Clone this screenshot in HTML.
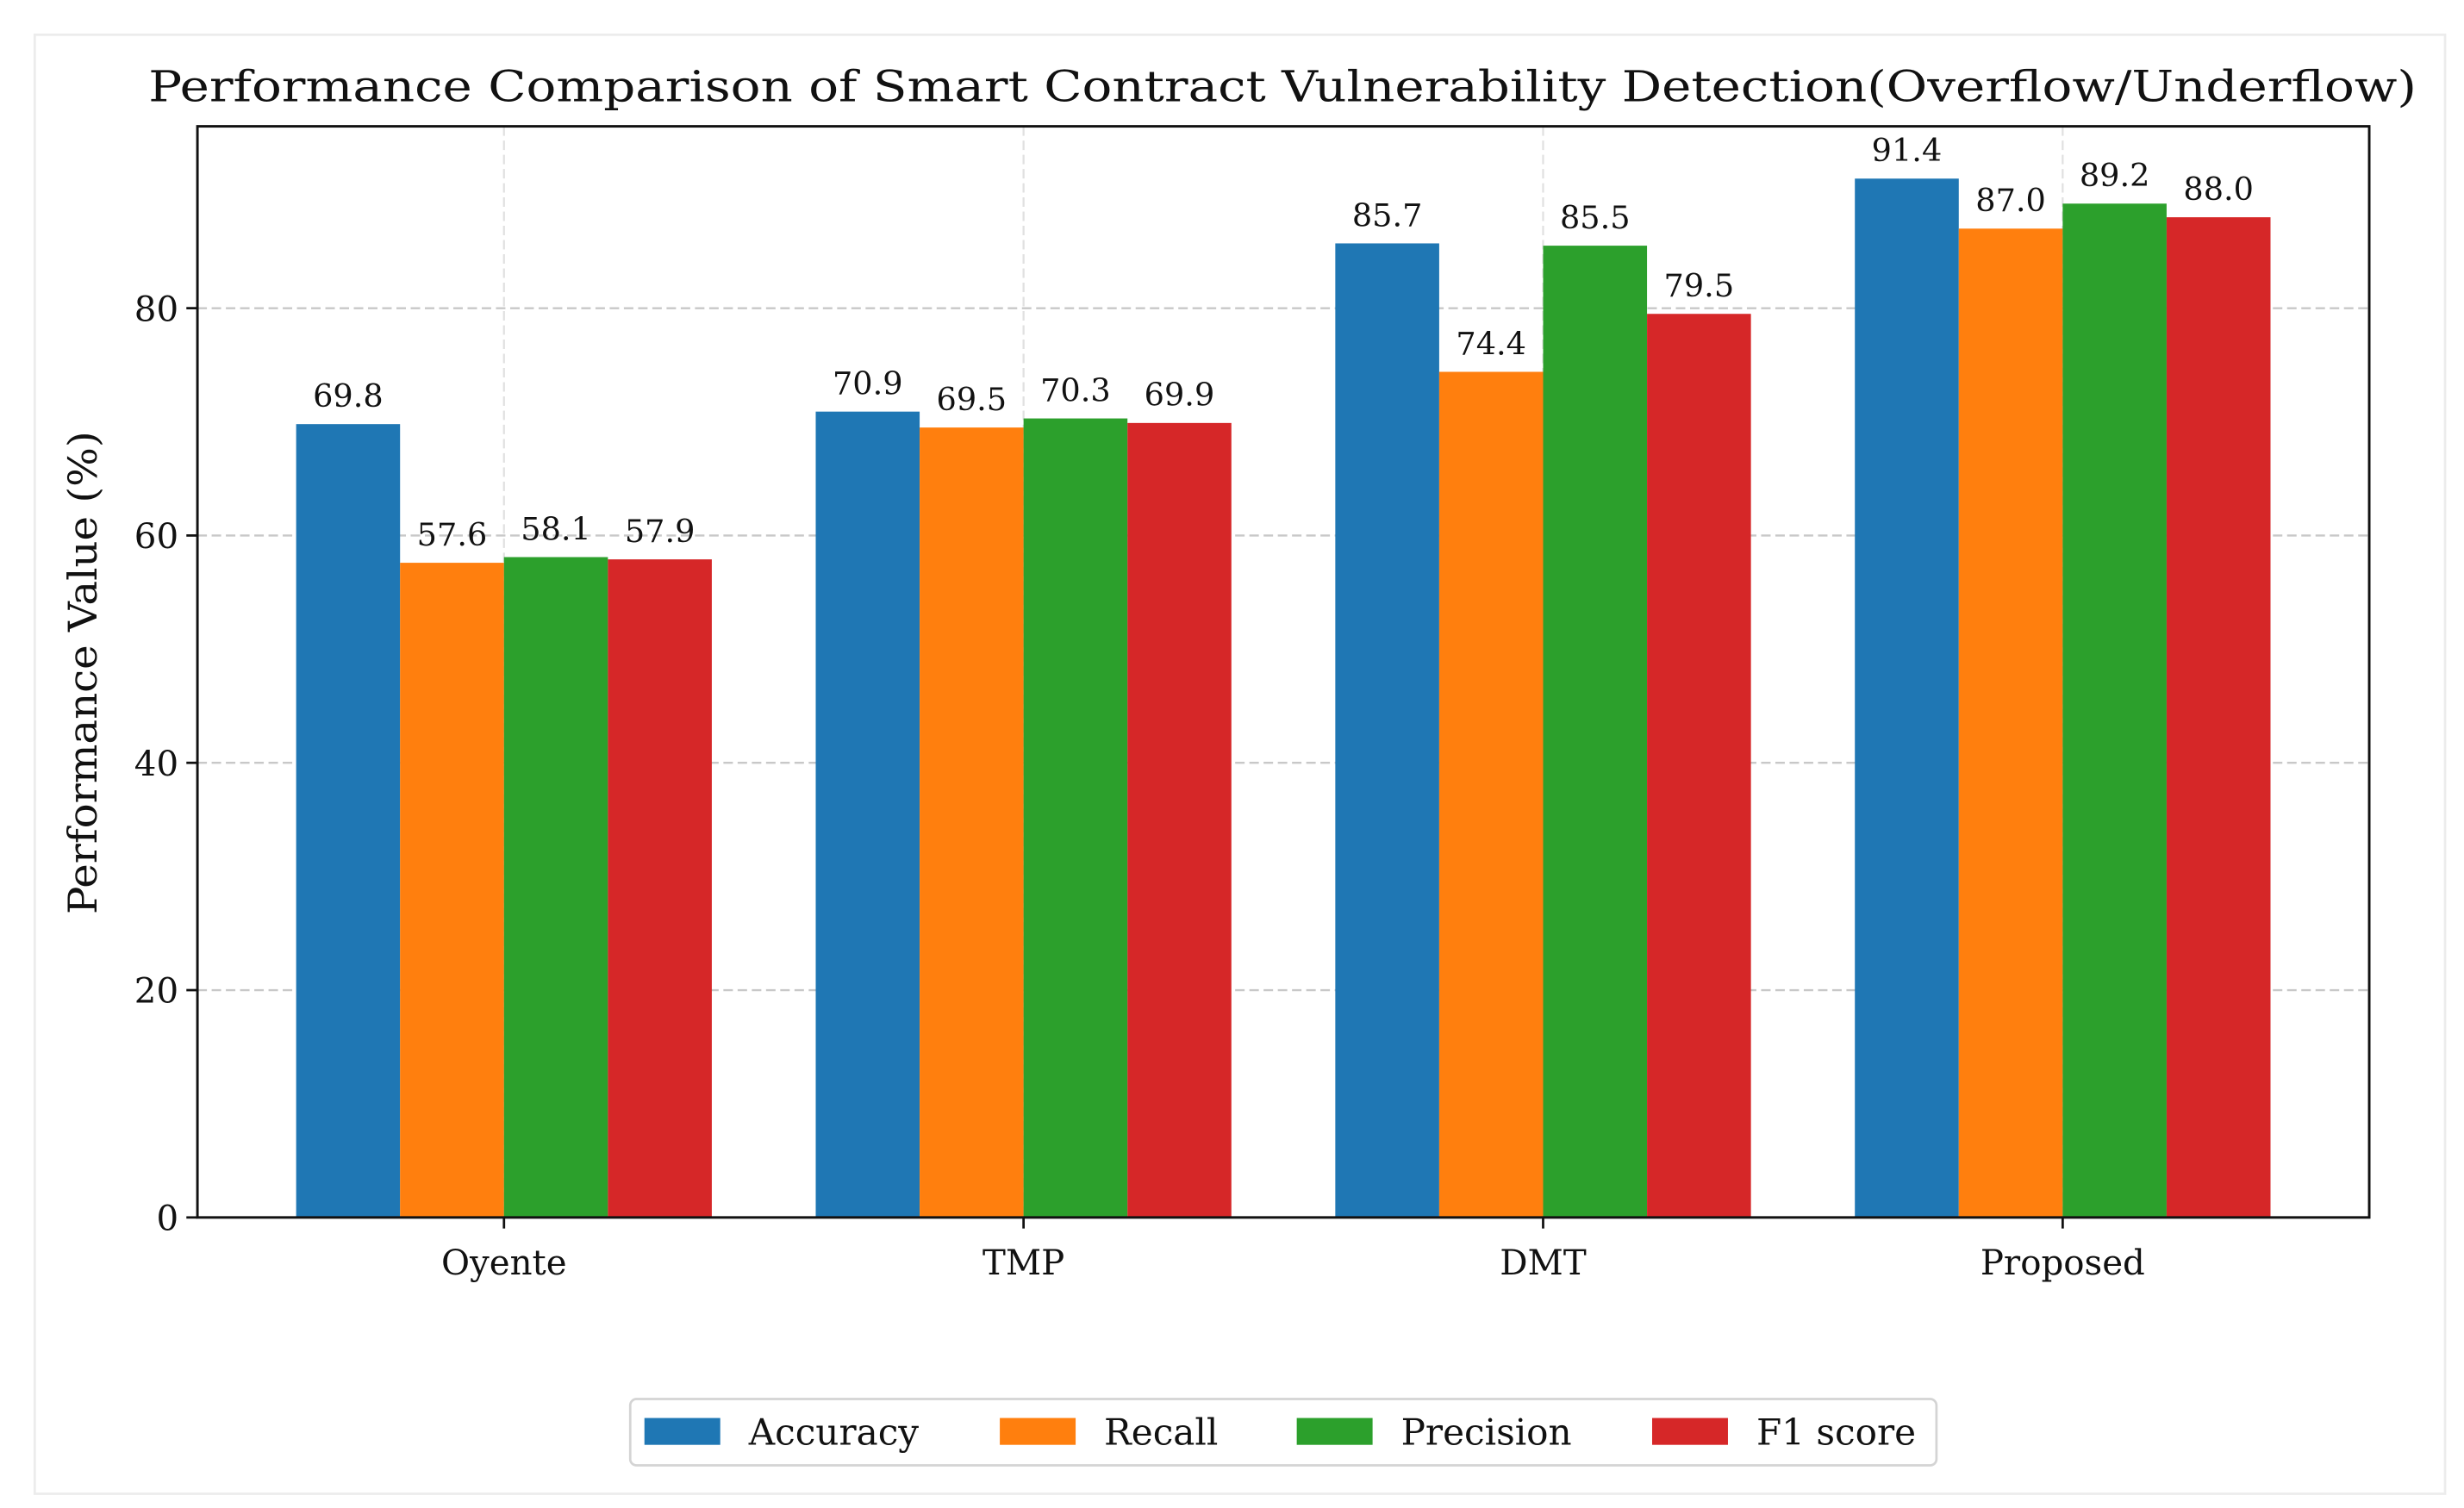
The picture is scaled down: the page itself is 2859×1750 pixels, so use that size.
<!DOCTYPE html>
<html><head><meta charset="utf-8"><style>
html,body{margin:0;padding:0;background:#fff;}
svg{display:block;}
text{font-family:"DejaVu Serif","Liberation Serif",serif;fill:#111;}
</style></head><body>
<svg id="chart" width="2859" height="1750" viewBox="0 0 1560 955" preserveAspectRatio="none" xmlns="http://www.w3.org/2000/svg">
<rect x="22" y="22" width="1526" height="924" fill="#fff" stroke="#ececec" stroke-width="1.5"/>
<text x="812" y="64" font-size="27" text-anchor="middle" textLength="1436" lengthAdjust="spacingAndGlyphs">Performance Comparison of Smart Contract Vulnerability Detection(Overflow/Underflow)</text>
<g id="grid"></g>
<g id="bars"></g>
<g id="labels"></g>
<rect x="125" y="80" width="1375" height="691" fill="none" stroke="#111" stroke-width="1.6"/>
<g id="axes"></g>
<text transform="translate(61,426) rotate(-90)" font-size="25" text-anchor="middle" textLength="306" lengthAdjust="spacingAndGlyphs">Performance Value (%)</text>
<g id="legend"></g>
</svg>
<script>
const categories = ["Oyente","TMP","DMT","Proposed"];
const seriesNames = ["Accuracy","Recall","Precision","F1 score"];
const accuracy = [69.8,70.9,85.7,91.4];
const recall = [57.6,69.5,74.4,87.0];
const precision = [58.1,70.3,85.5,89.2];
const f1score = [57.9,69.9,79.5,88.0];
const yTicks = [0,20,40,60,80];
const colors = ["#1f77b4","#ff7f0e","#2ca02c","#d62728"];
const series=[accuracy,recall,precision,f1score];
const NS="http://www.w3.org/2000/svg";
const X0=125,X1=1500,Y0=771,Y1=80,YMAX=96,PAD=0.59;
const step=(X1-X0)/(categories.length-1+2*PAD);
const xc=i=>X0+step*(i+PAD);
const y=v=>Y0-(v/YMAX)*(Y0-Y1);
const bw=step*0.8/4;
function mk(tag,attrs,parent){const e=document.createElementNS(NS,tag);for(const k in attrs)e.setAttribute(k,attrs[k]);parent.appendChild(e);return e;}
const grid=document.getElementById('grid'),bars=document.getElementById('bars'),labels=document.getElementById('labels'),axes=document.getElementById('axes'),legend=document.getElementById('legend');
yTicks.forEach(t=>{
  if(t>0){const g=mk('line',{x1:X0,x2:X1,y1:y(t),y2:y(t),stroke:'#c8c8c8','stroke-width':1.3,'stroke-dasharray':'6,3'},grid);
  
  }
  const tk=mk('line',{x1:X0-7,x2:X0,y1:y(t),y2:y(t),stroke:'#111','stroke-width':1.5},axes);
  
  
  const tl=mk('text',{x:X0-12,y:y(t)+8,'font-size':22,'text-anchor':'end'},axes);tl.textContent=t;
  
  
});
categories.forEach((c,i)=>{
  const g=mk('line',{x1:xc(i),x2:xc(i),y1:Y1,y2:Y0,stroke:'#e0e0e0','stroke-width':1.2,'stroke-dasharray':'6,3'},grid);
  
  
  const tk=mk('line',{x1:xc(i),x2:xc(i),y1:Y0,y2:Y0+7,stroke:'#111','stroke-width':1.5},axes);
  
  
  const tl=mk('text',{x:xc(i),y:Y0+36,'font-size':22,'text-anchor':'middle'},axes);tl.textContent=c;
  
  
  series.forEach((s,j)=>{
    const bx=xc(i)-2*bw+j*bw;
    const r=mk('rect',{x:bx,y:y(s[i]),width:bw,height:Y0-y(s[i]),fill:colors[j]},bars);
    
    
    const t=mk('text',{x:bx+bw/2,y:y(s[i])-11,'font-size':20,'text-anchor':'middle'},labels);t.textContent=s[i].toFixed(1);
    
    
  });
});
const lb=mk('rect',{x:399,y:886,width:827,height:42,rx:4,fill:'#fff',stroke:'#d4d4d4','stroke-width':1.5},legend);


const lx=[408,633,821,1046];
seriesNames.forEach((n,j)=>{
  const p=mk('rect',{x:lx[j],y:898,width:48,height:17,fill:colors[j]},legend);
  
  
  const t=mk('text',{x:lx[j]+66,y:915,'font-size':23},legend);t.textContent=n;
  
  
});
</script>
</body></html>
